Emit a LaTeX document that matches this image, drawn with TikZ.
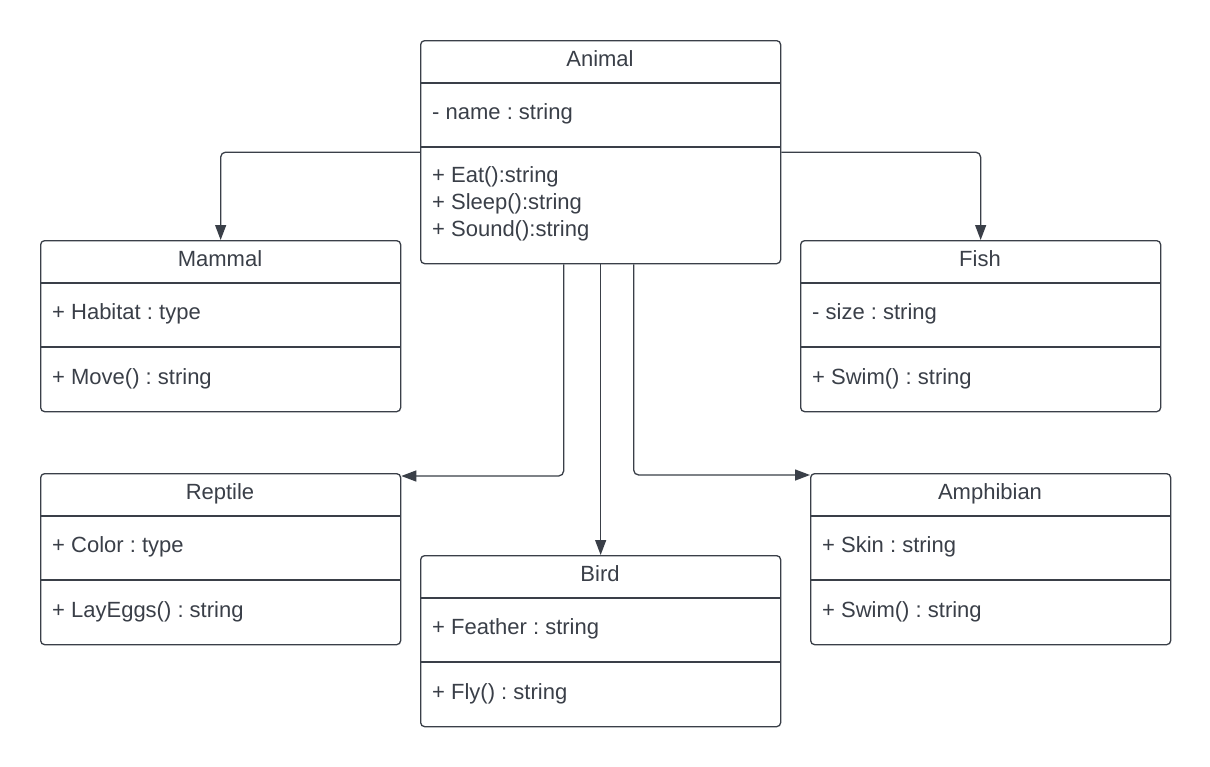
\documentclass[tikz,border=0pt]{standalone}
\usepackage{fontspec}
\setmainfont{Liberation Sans}
\usetikzlibrary{arrows.meta}
\frenchspacing
\definecolor{ink}{RGB}{58,63,72}
\tikzset{
  classbox/.style={draw=ink, line width=1.3pt, rounded corners=4pt, minimum width=360pt, inner sep=0pt, fill=white},
  sepline/.style={draw=ink, line width=1.3pt},
  ttl/.style={anchor=base, inner sep=0pt, text=ink, font=\fontsize{22}{27}\selectfont\frenchspacing},
  mem/.style={anchor=base west, inner sep=0pt, text=ink, font=\fontsize{22}{27}\selectfont\frenchspacing},
  conn/.style={draw=ink, line width=1.3pt, rounded corners=5pt, -{Triangle[length=15pt,width=11pt]}}
}
\newcommand\umlclass[6]{%
  \node[classbox, anchor=north west, minimum height=171pt] (#1) at (#2,#3) {};
  \draw[sepline] (#2,#3+43) -- (#2+360,#3+43);
  \draw[sepline] (#2,#3+107) -- (#2+360,#3+107);
  \node[ttl] (#1-t) at (#2+180,#3+26) {#4};
  \node[mem] (#1-a) at (#2+12,#3+79) {#5};
  \node[mem] (#1-m) at (#2+12,#3+144) {#6};
}
\begin{document}
\begin{tikzpicture}[x=1pt,y=-1pt]
\useasboundingbox[fill=white] (0,0) rectangle (1210,766);
% Animal
\node[classbox, anchor=north west, minimum height=223pt] (animal) at (420,40) {};
\draw[sepline] (420,83) -- (780,83);
\draw[sepline] (420,147) -- (780,147);
\node[ttl] (animal-t) at (600,66) {Animal};
\node[mem] (animal-a) at (432,119) {- name : string};
\node[mem] (animal-m1) at (432,182) {+ Eat():string};
\node[mem] (animal-m2) at (432,209) {+ Sleep():string};
\node[mem] (animal-m3) at (432,236) {+ Sound():string};
% others
\umlclass{mammal}{40}{240}{Mammal}{+ Habitat : type}{+ Move() : string}
\umlclass{fish}{800}{240}{Fish}{- size : string}{+ Swim() : string}
\umlclass{reptile}{40}{473}{Reptile}{+ Color : type}{+ LayEggs() : string}
\umlclass{bird}{420}{555}{Bird}{+ Feather : string}{+ Fly() : string}
\umlclass{amphibian}{810}{473}{Amphibian}{+ Skin : string}{+ Swim() : string}
% connectors
\draw[conn] (animal.west) -| (mammal.north);
\draw[conn] (animal.east) -| (fish.north);
\draw[conn] ([xshift=-37pt]animal.south) |- ([yshift=-3pt]reptile.north east);
\draw[conn] (animal.south) -- (bird.north);
\draw[conn] ([xshift=33pt]animal.south) |- ([yshift=-2pt]amphibian.north west);
\end{tikzpicture}
\end{document}
